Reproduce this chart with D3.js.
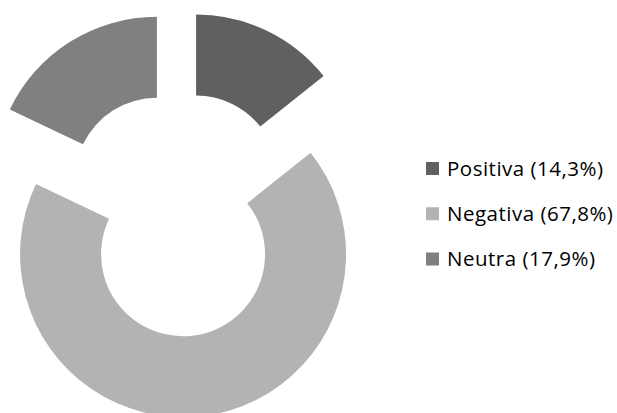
<!DOCTYPE html>
<html>
<head>
<meta charset="utf-8">
<script src="https://cdn.jsdelivr.net/npm/d3@7"></script>
<style>
  html, body { margin: 0; padding: 0; background: #fff; }
  svg { display: block; }
</style>
</head>
<body>
<svg id="chart" width="617" height="413"></svg>
<script>
const categories = ["Positiva", "Negativa", "Neutra"];
const values = [14.3, 67.8, 17.9];
const colors = ["#606060", "#b3b3b3", "#808080"];

const W = 617, H = 413;
const cx = 178.5, cy = 214;
const outerR = 163, innerR = 82;
const explode = 40.5;

const svg = d3.select("#chart");

const pie = d3.pie().sort(null).value(d => d.value).startAngle(0).endAngle(2 * Math.PI);
const arc = d3.arc().innerRadius(innerR).outerRadius(outerR);

const data = categories.map((c, i) => ({ name: c, value: values[i], color: colors[i] }));
const arcs = pie(data);

const g = svg.append("g").attr("transform", `translate(${cx},${cy})`);
g.selectAll("path")
  .data(arcs)
  .enter()
  .append("path")
  .attr("d", arc)
  .attr("fill", d => d.data.color)
  .attr("transform", d => {
    const mid = (d.startAngle + d.endAngle) / 2;
    const dx = Math.sin(mid) * explode, dy = -Math.cos(mid) * explode;
    return `translate(${dx},${dy})`;
  });

// Legend
const fmt = v => v.toFixed(1).replace(".", ",") + "%";
const legendY = d3.scalePoint().domain(categories).range([168.5, 259]);
const legend = svg.append("g");
const items = legend.selectAll("g")
  .data(data)
  .enter()
  .append("g")
  .attr("transform", d => `translate(426,${legendY(d.name)})`);
items.append("rect")
  .attr("x", 0).attr("y", -6.5)
  .attr("width", 13).attr("height", 13)
  .attr("fill", d => d.color);
items.append("text")
  .attr("x", 21).attr("y", 0)
  .attr("dy", "0.36em")
  .attr("font-family", "'Open Sans', sans-serif")
  .attr("font-size", 20.5)
  .attr("letter-spacing", 0.5)
  .attr("fill", "#000")
  .text(d => `${d.name} (${fmt(d.value)})`);
</script>
</body>
</html>
